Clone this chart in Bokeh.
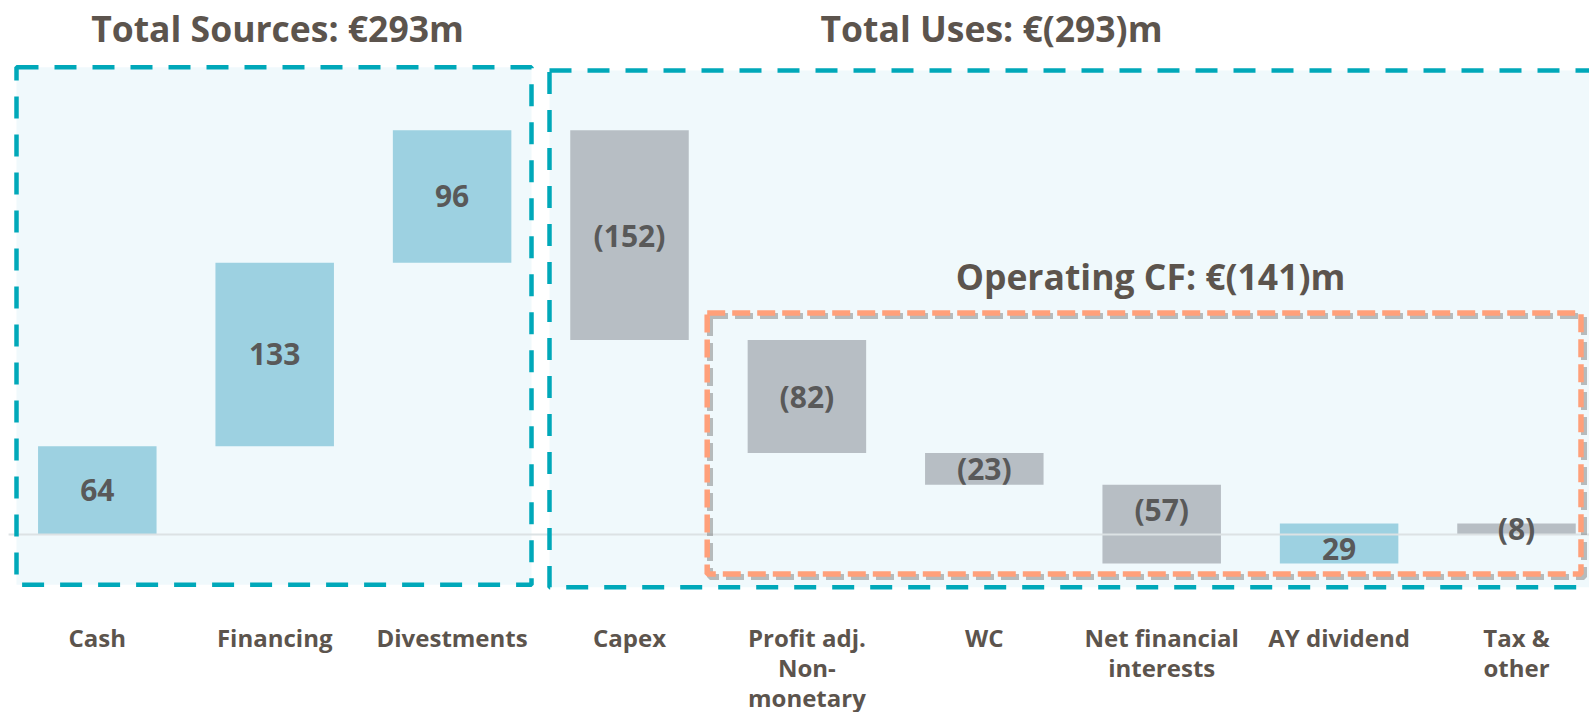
import numpy as np
from bokeh.plotting import figure
from bokeh.models import Range1d, Label, ColumnDataSource
from bokeh.core.properties import value
from bokeh.embed import file_html
from bokeh.resources import INLINE

# ---- data ----
categories = ["Cash", "Financing", "Divestments", "Capex", "Profit adj.\nNon-\nmonetary",
              "WC", "Net financial\ninterests", "AY dividend", "Tax &\nother"]
values = [64, 133, 96, -152, -82, -23, -57, 29, -8]
value_labels = ["64", "133", "96", "(152)", "(82)", "(23)", "(57)", "29", "(8)"]
titles = ["Total Sources: €293m", "Total Uses: €(293)m", "Operating CF: €(141)m"]

# ---- layout helpers (pixel -> data) ----
W, H = 1589, 712
X0_PX, STEP, BASE_PX, PPU = 8.1, 177.4, 534.0, 1.38
def xd(px): return (px - X0_PX) / STEP - 0.5
def yd(py): return (BASE_PX - py) / PPU

FONT = value("Open Sans")
BLUE, GREY = "#9DD1E1", "#B7BEC4"
TEAL, ORANGE = "#00A8B9", "#FFA07A"
FILL = "#F0F9FC"
TXT, VTXT = "#5C544D", "#595959"

p = figure(width=W, height=H, output_backend="svg", toolbar_location=None,
           x_range=Range1d(xd(0), xd(W)), y_range=Range1d(yd(H), yd(0)),
           min_border=0, min_border_left=0, min_border_right=0,
           min_border_top=0, min_border_bottom=0)
p.xaxis.visible = False
p.yaxis.visible = False
p.grid.visible = False
p.outline_line_color = None
p.background_fill_color = "white"
p.border_fill_color = "white"

# ---- background boxes ----
p.quad(left=[xd(16), xd(549)], right=[xd(531), xd(1605)],
       top=[yd(66.7), yd(70)], bottom=[yd(584.3), yd(586.7)],
       fill_color=FILL, line_color=None)

# ---- waterfall ----
vals = np.array(values, dtype=float)
end = np.cumsum(vals)
start = end - vals
bottom = np.minimum(start, end)
top = np.maximum(start, end)
colors = [BLUE if v > 0 else GREY for v in values]
idx = np.arange(len(values))

lab_y = []
for s, e in zip(start, end):
    if s * e < 0:
        pos, neg = max(s, e), min(s, e)
        lab_y.append(pos / 2 if pos >= -neg else neg / 2)
    else:
        lab_y.append((s + e) / 2)

src = ColumnDataSource(dict(x=idx, bottom=bottom, top=top, color=colors,
                            ly=lab_y, lab=value_labels))
p.vbar(x="x", width=0.668, bottom="bottom", top="top", fill_color="color",
       line_color=None, source=src)

# baseline
p.segment(x0=[-0.5], x1=[xd(W + 20)], y0=[0], y1=[0], line_color="#DCE2E4", line_width=2)

# ---- dashed frames ----
p.quad(left=[xd(16)], right=[xd(531)], top=[yd(66.7)], bottom=[yd(584.3)],
       fill_color=None, line_color=TEAL, line_width=4.5, line_dash="22 16")
p.quad(left=[xd(549)], right=[xd(1640)], top=[yd(70)], bottom=[yd(586.7)],
       fill_color=None, line_color=TEAL, line_width=4.5, line_dash="22 16")
# orange frame with shadow
p.quad(left=[xd(709.5)], right=[xd(1583.5)], top=[yd(315.5)], bottom=[yd(576.5)],
       fill_color=None, line_color="#6E6E6E", line_alpha=0.45, line_width=6, line_dash="18 7")
p.quad(left=[xd(706.7)], right=[xd(1580.5)], top=[yd(312.5)], bottom=[yd(573.5)],
       fill_color=None, line_color=ORANGE, line_width=5.5, line_dash="18 7")

# ---- value labels ----
p.text(x="x", y="ly", text="lab", source=src, text_font=FONT, text_font_style="bold",
       text_font_size="30px", text_align="center", text_baseline="middle", text_color=VTXT)

# ---- category labels ----
cx, cy, ct = [], [], []
for i, c in enumerate(categories):
    for j, line in enumerate(c.split("\n")):
        cx.append(i)
        cy.append(yd(636.5 + 30 * j))
        ct.append(line)
p.text(x=cx, y=cy, text=ct, text_font=FONT, text_font_style="bold",
       text_font_size="24px", text_align="center", text_baseline="middle", text_color=TXT)

# ---- titles ----
for t, (tx, ty) in zip(titles, [(277, 27.5), (991, 27.5), (1150, 275)]):
    p.add_layout(Label(x=tx, y=H - ty, x_units="screen", y_units="screen", text=t,
                       text_font="Open Sans", text_font_style="bold", text_font_size="35.5px",
                       text_align="center", text_baseline="middle", text_color=TXT))

open("out.html", "w").write(file_html(p, INLINE))
